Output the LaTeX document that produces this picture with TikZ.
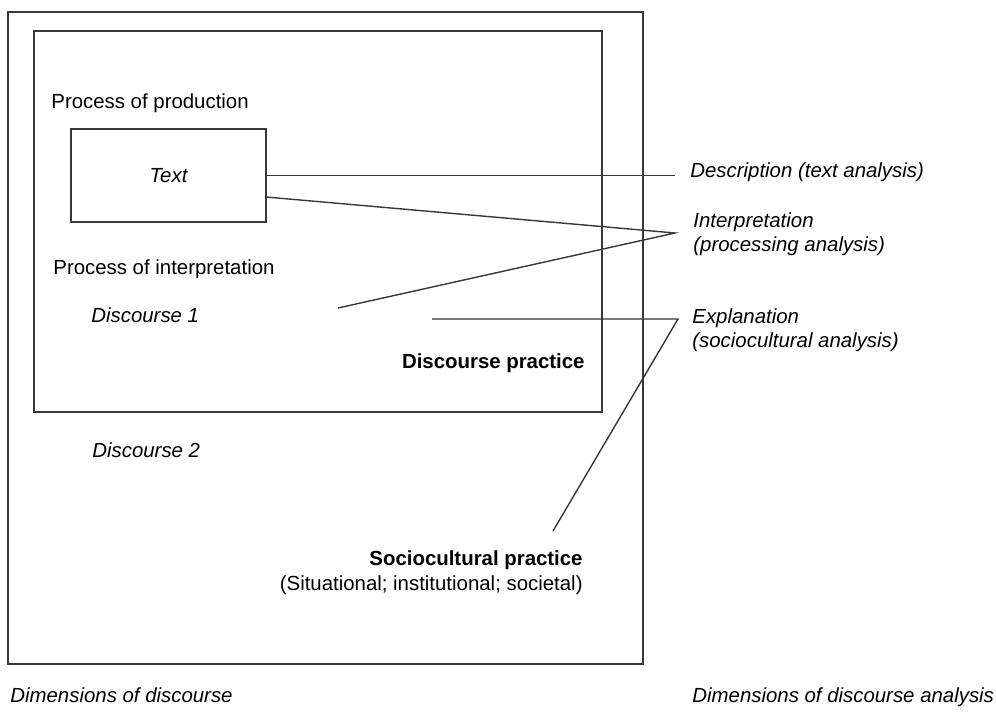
\documentclass[tikz,border=0pt]{standalone}
\usepackage{fontspec}
\setmainfont{Liberation Sans}
\begin{document}
\begin{tikzpicture}[x=0.5pt,y=-0.5pt,
  ink/.style={draw=black!78},
  frame/.style={ink,line width=0.8pt,rectangle,inner sep=0pt},
  link/.style={ink,line width=0.7pt},
  lbl/.style={inner sep=0pt,anchor=base west,font=\fontsize{10.2}{12}\selectfont},
  lblr/.style={lbl,anchor=base east},
  ital/.style={font=\fontsize{10.2}{12}\selectfont\itshape},
  bld/.style={font=\fontsize{10.2}{12}\selectfont\bfseries}]
\useasboundingbox (0,0) rectangle (996,712);

% nested frames: sociocultural practice, discourse practice, text
\node[frame,minimum width=317.5pt,minimum height=326pt] (outer) at (325.5,338) {};
\node[frame,minimum width=284pt,minimum height=190.5pt] (inner) at (318,221.5) {};
\node[frame,minimum width=97.5pt,minimum height=46.5pt,font=\fontsize{10.2}{12}\selectfont\itshape] (txt) at (168.5,175.5) {Text};

% labels inside the frames
\node[lbl] (prod) at (51,108) {Process of production};
\node[lbl] (interp) at (53,274) {Process of interpretation};
\node[lbl,ital] (d1) at (91,322) {Discourse 1};
\node[lblr,bld] (dp) at (585,368) {Discourse practice};
\node[lbl,ital] (d2) at (92,457) {Discourse 2};
\node[lblr,bld] (sp) at (583,565) {Sociocultural practice};
\node[lblr] (sp2) at (583,590) {(Situational; institutional; societal)};

% analysis labels on the right
\node[lbl,ital] (desc) at (690,177) {Description (text analysis)};
\node[lbl,ital] (intp) at (693,227) {Interpretation};
\node[lbl,ital] (intp2) at (693,251) {(processing analysis)};
\node[lbl,ital] (expl) at (692,323) {Explanation};
\node[lbl,ital] (expl2) at (692,347) {(sociocultural analysis)};

% captions
\node[lbl,ital] (capl) at (10,702) {Dimensions of discourse};
\node[lbl,ital] (capr) at (692,702) {Dimensions of discourse analysis};

% connector end points
\coordinate (descend) at (675,175.5);
\coordinate (txtlow) at (266,197);
\coordinate (intapex) at (675,233);
\coordinate (d1end) at (338,308);
\coordinate (dpend) at (432,319);
\coordinate (explapex) at (678,319);
\coordinate (spend) at (553,531);

% connectors
\draw[link] (txt.east) -- (descend);
\draw[link] (txtlow) -- (intapex) -- (d1end);
\draw[link] (dpend) -- (explapex) -- (spend);
\end{tikzpicture}
\end{document}
